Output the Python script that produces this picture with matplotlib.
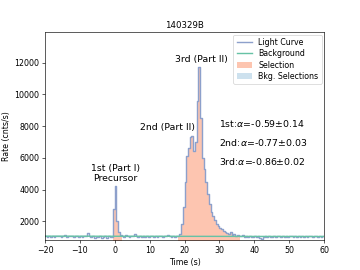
import numpy as np
import matplotlib
matplotlib.use("Agg")
import matplotlib.pyplot as plt
from matplotlib.patches import Patch

# light curve, 0.5 s bins from -20 s to 60 s (left edges)
bin_width = 0.5
t_start = -20.0
rates = [
    1050, 1000, 1080, 1020, 1100, 980, 1060, 1040, 1090, 1010,
    1070, 1120, 1000, 1080, 1050, 1100, 980, 1040, 1070, 1020,
    1060, 1010, 1090, 1050, 1250, 1100, 1000, 1060, 950, 1030,
    980, 1050, 920, 1000, 1070, 960, 1040, 1020, 990, 2800,
    4250, 2000, 1300, 1150, 1080, 1000, 1120, 1050, 990, 1060,
    1100, 1200, 1080, 1020, 1050, 1000, 1070, 1030, 1060, 1010,
    1040, 1080, 1000, 1060, 1020, 1090, 1050, 1000, 1070, 1040,
    1150, 1060, 1020, 1100, 1000, 1050, 1080, 1200, 1800, 2900,
    4500, 6100, 6600, 7300, 7350, 6400, 7000, 9600, 11700, 8500,
    6000, 5300, 4500, 3700, 3100, 2600, 2300, 2050, 1850, 1700,
    1600, 1500, 1400, 1300, 1250, 1200, 1300, 1150, 1200, 1100,
    1150, 1100, 1050, 1120, 1000, 1080, 980, 1060, 1030, 1000,
    1050, 1000, 1070, 950, 900, 1010, 1060, 1000, 1080, 1020,
    1000, 1050, 990, 1100, 1040, 1000, 1060, 1020, 1050, 990,
    1040, 1080, 1000, 1060, 1030, 1070, 1010, 1050, 1000, 1060,
    1020, 1050, 1090, 1000, 1040, 1070, 1010, 1060, 1030, 1050,
]

# fitted background (end points)
bkg_time = [-20, 60]
bkg_rate = [1060, 1040]

# selected source intervals (s)
selections = [(-0.5, 2.0), (18.0, 36.0)]

peak_labels = ["1st (Part I)\nPrecursor", "2nd (Part II)", "3rd (Part II)"]
peak_pos = [(0.2, 4400), (15.1, 7650), (24.8, 11900)]

alpha_labels = [r"1st:$\alpha$=-0.59$\pm$0.14",
                r"2nd:$\alpha$=-0.77$\pm$0.03",
                r"3rd:$\alpha$=-0.86$\pm$0.02"]
alpha_y = [8150, 6950, 5750]

rates = np.array(rates, dtype=float)
edges = t_start + bin_width * np.arange(len(rates) + 1)
step_y = np.append(rates, rates[-1])

fig, ax = plt.subplots(figsize=(6.4, 4.8), dpi=56.25)

ax.step(edges, step_y, where="post", color="#8da0cb", lw=1.8, label="Light Curve")
ax.plot(bkg_time, bkg_rate, color="#66c2a5", lw=1.8, label="Background")

for i, (lo, hi) in enumerate(selections):
    mask = (edges >= lo) & (edges <= hi)
    ax.fill_between(edges[mask], step_y[mask], 0, step="post", color="#fc8d62",
                    alpha=0.5, lw=0, label="Selection" if i == 0 else None)

handles, labels = ax.get_legend_handles_labels()
handles.append(Patch(facecolor="C0", alpha=0.22))
labels.append("Bkg. Selections")

for txt, (x, y) in zip(peak_labels, peak_pos):
    ax.text(x, y, txt, ha="center", va="bottom", fontsize=12, multialignment="center")

for txt, y in zip(alpha_labels, alpha_y):
    ax.text(30, y, txt, ha="left", va="center", fontsize=12)

ax.set_xlim(-20, 60)
ax.set_ylim(800, 13900)
ax.set_xticks(np.arange(-20, 61, 10))
ax.set_yticks(np.arange(2000, 12001, 2000))
ax.tick_params(labelsize=10)
ax.set_xlabel("Time (s)", fontsize=10)
ax.set_ylabel("Rate (cnts/s)", fontsize=10)
ax.set_title("140329B", fontsize=11)
ax.legend(handles, labels, loc="upper right", fontsize=10, labelspacing=0.3,
          borderaxespad=0.3)

fig.savefig("out.png", dpi=56.25)
